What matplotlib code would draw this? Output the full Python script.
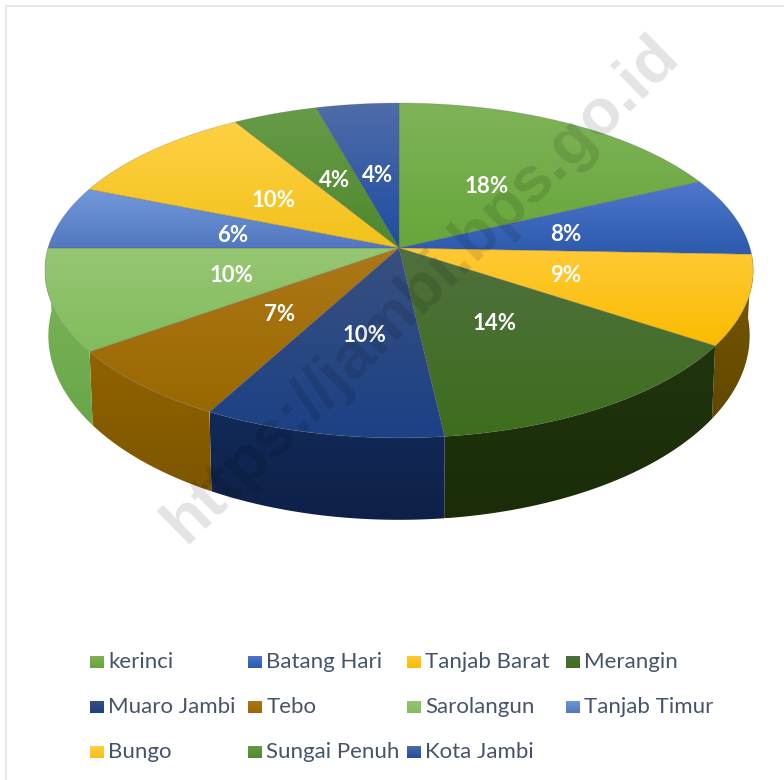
import numpy as np
import matplotlib
matplotlib.use('Agg')
import matplotlib.pyplot as plt
from matplotlib.colors import LinearSegmentedColormap
from matplotlib.patches import Polygon

# data
regions = ['kerinci', 'Batang Hari', 'Tanjab Barat', 'Merangin', 'Muaro Jambi', 'Tebo',
           'Sarolangun', 'Tanjab Timur', 'Bungo', 'Sungai Penuh', 'Kota Jambi']
shares = [18.0, 7.6, 8.7, 13.9, 9.7, 7.2, 9.9, 6.1, 10.2, 4.4, 4.3]

# top surface colours (light end, dark end)
top_colors = [('#80b358', '#66a63a'), ('#4f78cc', '#2c5aac'), ('#ffc935', '#fabc00'),
              ('#50703f', '#3d6e1c'), ('#38507f', '#1c4186'), ('#ac7818', '#9a6800'),
              ('#96c672', '#82bc5e'), ('#7299da', '#5277c0'), ('#ffd144', '#f1c21a'),
              ('#689b49', '#4d892b'), ('#506ca9', '#1e4da0')]
side_colors = [('#66a63a', '#4d8a2a'), ('#2c5aac', '#204a90'), ('#7a5a00', '#614700'),
               ('#20340e', '#1a2d08'), ('#122a58', '#0e2048'), ('#916300', '#7d5600'),
               ('#7db65a', '#69a64a'), ('#5277c0', '#4468a8'), ('#f1c21a', '#c9a000'),
               ('#4d892b', '#3c6e20'), ('#1e4da0', '#173d80')]

# pie geometry in pixels, small perspective on the circle
CX, CY = 399, 248
RX, RY, K = 351, 164.4, 0.134
DROP, BOTTOM_SCALE_X, BOTTOM_SCALE_Y = 63, 0.99, 1.10


def project(theta, r=1.0, bottom=False):
    """theta 从正上方顺时针计算"""
    u = r * np.sin(theta)
    v = -r * np.cos(theta)
    w = 1 - K * v
    if bottom:
        return CX + BOTTOM_SCALE_X * RX * u / w, CY + DROP + BOTTOM_SCALE_Y * RY * v / w
    return CX + RX * u / w, CY + RY * v / w


def gradient_fill(ax, pts, c_light, c_dark, zorder, edge=None):
    """polygon filled with a vertical gradient"""
    pts = np.asarray(pts)
    cmap = LinearSegmentedColormap.from_list('g', [c_light, c_dark])
    x0, x1 = pts[:, 0].min(), pts[:, 0].max()
    y0, y1 = pts[:, 1].min(), pts[:, 1].max()
    grad = np.linspace(0, 1, 128).reshape(-1, 1)
    im = ax.imshow(grad, cmap=cmap, extent=(x0, x1, y1, y0), aspect='auto',
                   zorder=zorder, interpolation='bilinear')
    patch = Polygon(pts, closed=True, transform=ax.transData, facecolor='none',
                    edgecolor=edge if edge else 'none', linewidth=0.6, zorder=zorder + 0.1)
    ax.add_patch(patch)
    im.set_clip_path(patch)


def main():
    plt.rcParams['font.family'] = ['Lato', 'DejaVu Sans']
    fig = plt.figure(figsize=(7.84, 7.80), dpi=100)
    ax = fig.add_axes([0, 0, 1, 1])

    # chart frame
    ax.plot([6, 6, 790], [790, 5.5, 5.5], color='#dfe6f0', linewidth=1.3, zorder=1)

    values = np.array(shares)
    cum = np.concatenate([[0], np.cumsum(values)]) / values.sum() * 2 * np.pi

    # sides first, only slices facing the viewer; the top covers the rest
    for i in range(len(regions)):
        if np.cos((cum[i] + cum[i + 1]) / 2) > 0.1:
            continue
        t = np.linspace(cum[i], cum[i + 1], 80)
        tx, ty = project(t)
        bx, by = project(t, bottom=True)
        pts = np.vstack([np.column_stack([tx, ty]), np.column_stack([bx, by])[::-1]])
        gradient_fill(ax, pts, side_colors[i][0], side_colors[i][1], 2 + i * 0.01)

    for i in range(len(regions)):
        t = np.linspace(cum[i], cum[i + 1], 80)
        tx, ty = project(t)
        pts = np.vstack([[CX, CY], np.column_stack([tx, ty])])
        gradient_fill(ax, pts, top_colors[i][0], top_colors[i][1], 3 + i * 0.01, edge='#5a5a5a40')

    # value labels
    for i, val in enumerate(values):
        mid = (cum[i] + cum[i + 1]) / 2
        lx, ly = project(mid, r=0.49)
        ax.text(lx, ly + 2.5, f'{round(val)}%', color='white', fontsize=16, fontweight='bold',
                ha='center', va='center', zorder=5)

    # legend, 4 columns
    col_x = [90, 248, 407, 566]
    row_y = [662, 707, 752]
    for i, name in enumerate(regions):
        x = col_x[i % 4]
        y = row_y[i // 4]
        box = [(x, y - 6.5), (x + 14, y - 6.5), (x + 14, y + 6.5), (x, y + 6.5)]
        gradient_fill(ax, box, top_colors[i][0], top_colors[i][1], 4)
        ax.text(x + 18.5, y, name, color='#44546a', fontsize=16, ha='left', va='center', zorder=5)

    # watermark
    ax.text(421, 289, 'https://jambi.bps.go.id', family=['Liberation Sans'], fontweight='bold',
            fontsize=47, color='black', alpha=0.11, rotation=44.5, rotation_mode='anchor',
            ha='center', va='center', zorder=6)

    ax.set_xlim(0, 784)
    ax.set_ylim(780, 0)
    ax.axis('off')
    fig.savefig('out.png', dpi=100)
    plt.close(fig)


if __name__ == '__main__':
    main()
